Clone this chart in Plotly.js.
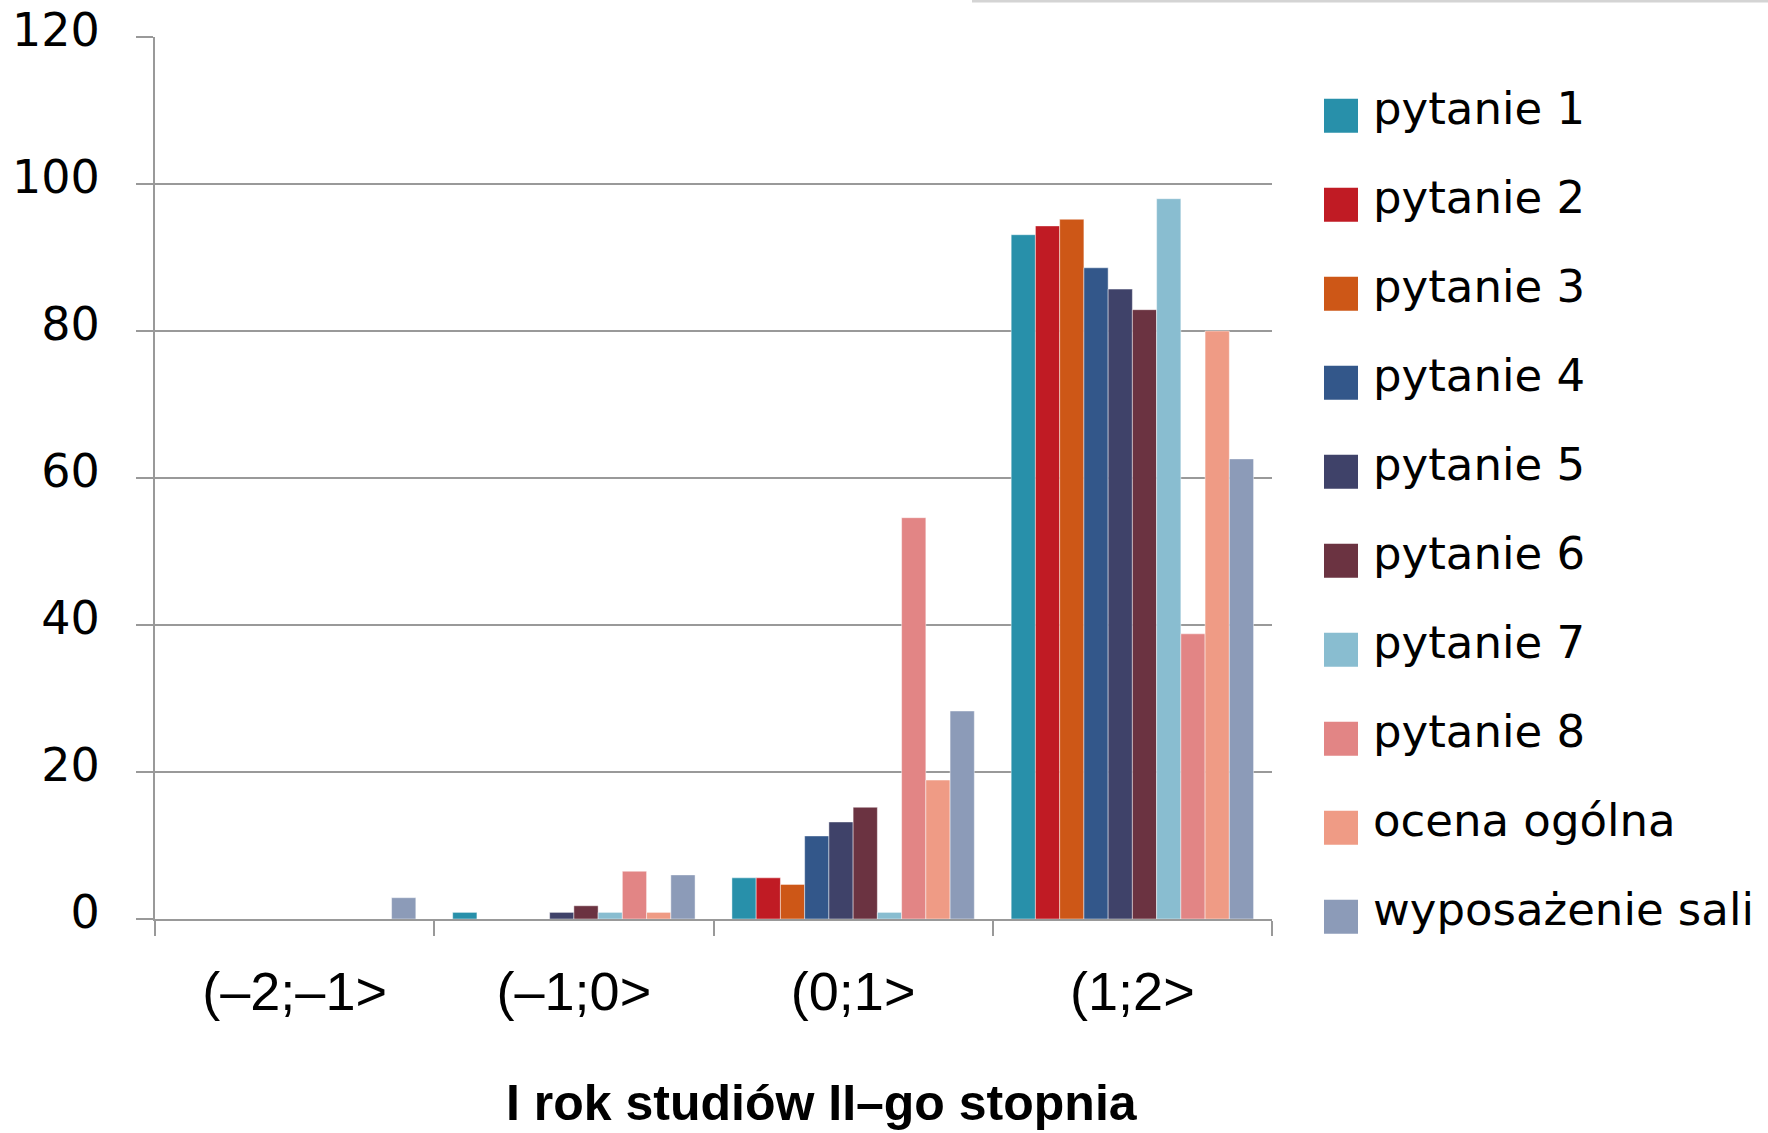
<!DOCTYPE html>
<html>
<head>
<meta charset="utf-8">
<script src="https://cdn.plot.ly/plotly-3.0.1.min.js"></script>
<style>html,body{margin:0;padding:0;background:#fff;}#chart{width:1768px;height:1133px;}</style>
</head>
<body>
<div id="chart"></div>
<script>
// ---- data ----
const categories = ["(–2;–1>", "(–1;0>", "(0;1>", "(1;2>"];
const seriesNames = ["pytanie 1", "pytanie 2", "pytanie 3", "pytanie 4", "pytanie 5",
                     "pytanie 6", "pytanie 7", "pytanie 8", "ocena ogólna", "wyposażenie sali"];
const pytanie1 = [0, 0.9, 5.6, 93.1];
const pytanie2 = [0, 0, 5.6, 94.3];
const pytanie3 = [0, 0, 4.7, 95.2];
const pytanie4 = [0, 0, 11.3, 88.6];
const pytanie5 = [0, 0.9, 13.2, 85.7];
const pytanie6 = [0, 1.8, 15.2, 82.9];
const pytanie7 = [0, 0.9, 0.9, 98.0];
const pytanie8 = [0, 6.5, 54.6, 38.8];
const ocenaOgolna = [0, 0.9, 18.9, 80.0];
const wyposazenieSali = [2.9, 6.0, 28.3, 62.6];
const yTicks = [0, 20, 40, 60, 80, 100, 120];
const xAxisTitle = "I rok studiów II–go stopnia";

const seriesValues = [pytanie1, pytanie2, pytanie3, pytanie4, pytanie5,
                      pytanie6, pytanie7, pytanie8, ocenaOgolna, wyposazenieSali];
const colors = ["#2890AA", "#C01B24", "#CD5717", "#33578A", "#3F4269",
                "#6B3341", "#89BDD0", "#E28585", "#EF9B85", "#8C9BB8"];

// ---- geometry helpers (page pixels -> paper coords) ----
const W = 1768, Hh = 1133;
const M = {l: 155, r: 496, t: 37, b: 214};
const PW = W - M.l - M.r, PH = Hh - M.t - M.b;
const px = v => (v - M.l) / PW;
const py = v => (Hh - M.b - v) / PH;

const traces = seriesNames.map((name, i) => ({
  type: "bar",
  name: name,
  x: categories,
  y: seriesValues[i],
  marker: {color: colors[i], line: {color: "rgba(255,255,255,0.45)", width: 1}},
  showlegend: false,
  hoverinfo: "x+y+name"
}));

// custom legend (large squares)
const shapes = [];
const annotations = [];
const legTop = 115.7, legStep = 89, sq = 34;
seriesNames.forEach((name, i) => {
  const cy = legTop + i * legStep;
  shapes.push({type: "rect", xref: "paper", yref: "paper",
    x0: px(1324), x1: px(1358), y0: py(cy + sq / 2), y1: py(cy - sq / 2),
    fillcolor: colors[i], line: {width: 0}});
  annotations.push({xref: "paper", yref: "paper", x: px(1371), y: py(cy - 7),
    xanchor: "left", yanchor: "middle", showarrow: false, text: name,
    font: {family: "DejaVu Sans", size: 45, color: "#000"}});
});
// x-axis title
annotations.push({xref: "paper", yref: "paper", x: px(822), y: py(1103),
  xanchor: "center", yanchor: "middle", showarrow: false, text: xAxisTitle,
  font: {family: "Liberation Sans", size: 50, color: "#000", weight: "bold"}});
// faint shadow line at the top right
shapes.push({type: "line", xref: "paper", yref: "paper",
  x0: px(972), x1: px(1768), y0: py(1), y1: py(1),
  line: {color: "#d4d4d4", width: 3}});

const layout = {
  width: W, height: Hh,
  margin: M,
  paper_bgcolor: "#fff", plot_bgcolor: "#fff",
  barmode: "group",
  bargap: 0.132,
  bargroupgap: 0,
  showlegend: false,
  xaxis: {
    type: "category",
    showline: true, linecolor: "#999", linewidth: 2,
    ticks: "outside", ticklen: 15, tickwidth: 2, tickcolor: "#999",
    tickson: "boundaries",
    showgrid: false, zeroline: false,
    tickfont: {family: "Liberation Sans", size: 54, color: "#000"},
    ticklabelstandoff: 24
  },
  yaxis: {
    range: [0, 120],
    tickvals: yTicks,
    showline: true, linecolor: "#999", linewidth: 2,
    ticks: "outside", ticklen: 17, tickwidth: 2, tickcolor: "#999",
    showgrid: true, gridcolor: "#999", gridwidth: 2,
    zeroline: false,
    tickfont: {family: "DejaVu Sans", size: 46, color: "#000"},
    ticklabelstandoff: 27,
    ticklabelshift: -7
  },
  shapes: shapes,
  annotations: annotations
};

Plotly.newPlot("chart", traces, layout, {displayModeBar: false, staticPlot: true});
</script>
</body>
</html>
